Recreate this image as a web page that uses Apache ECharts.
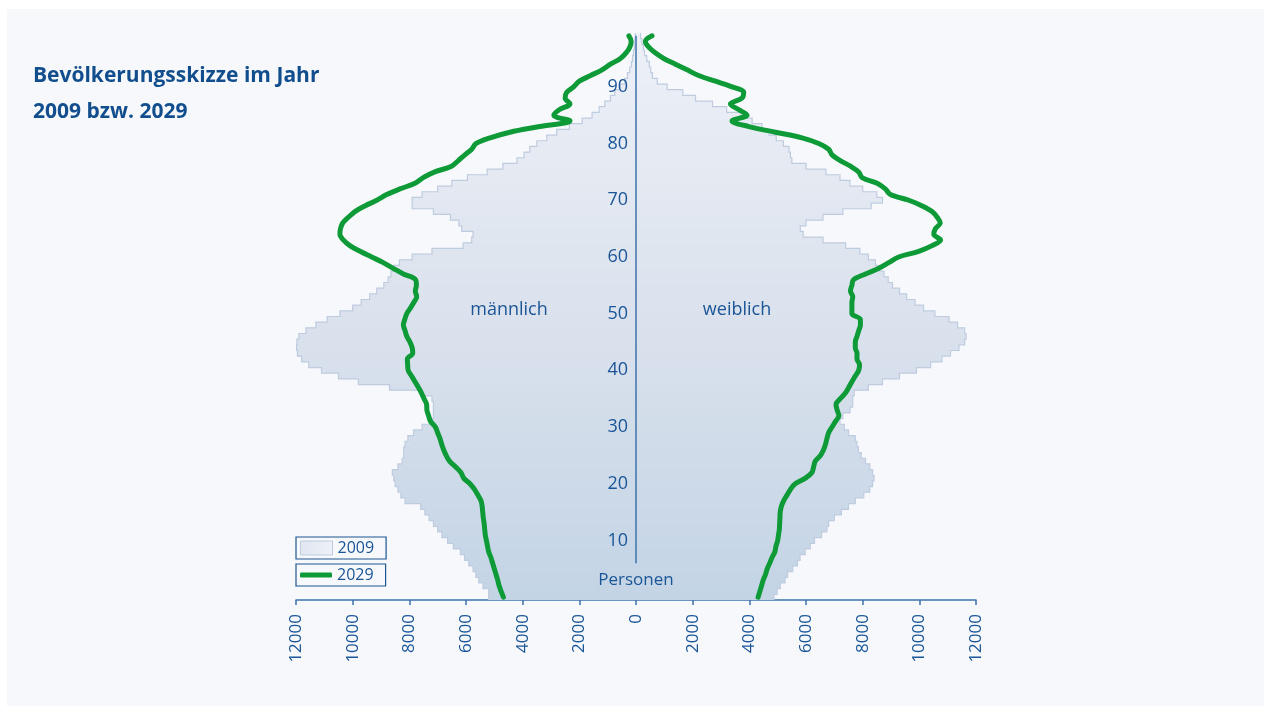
<!DOCTYPE html>
<html>
<head>
<meta charset="utf-8">
<script src="https://cdn.jsdelivr.net/npm/echarts@6/dist/echarts.min.js"></script>
<style>
html, body { margin: 0; padding: 0; background: #ffffff; }
#main { position: absolute; left: 7px; top: 9px; width: 1257px; height: 697px; background: #f6f8fc; }
</style>
</head>
<body>
<div id="main"></div>
<script>
// Altersjahre 0..99 (Kategorien der senkrechten Achse)
var ages = [];
for (var a = 0; a < 100; a++) ages.push(String(a));
var ageTicks = [10, 20, 30, 40, 50, 60, 70, 80, 90];

// Personen je Altersjahr, 2009 (Treppe)
var men2009 = [
  5200, 5200, 5400, 5550, 5650, 5750, 5900, 6050, 6200, 6450,
  6650, 6850, 7000, 7150, 7300, 7450, 7600, 8150, 8300, 8400,
  8500, 8550, 8600, 8400, 8250, 8200, 8200, 8150, 8050, 7850,
  7550, 7200, 7150, 7150, 7150, 7200, 7600, 8700, 9800, 10500,
  11100, 11550, 11800, 11950, 11980, 11970, 11900, 11650, 11300, 10900,
  10450, 10000, 9700, 9400, 9150, 8900, 8750, 8650, 8550, 8350,
  7900, 7200, 6100, 5800, 5750, 6150, 6250, 6550, 7150, 7900,
  7900, 7550, 7000, 6500, 5950, 5250, 4700, 4200, 3950, 3750,
  3500, 3150, 2800, 2350, 1900, 1550, 1300, 1100, 900, 750,
  550, 400, 300, 220, 160, 120, 90, 60, 40, 25
];
var women2009 = [
  4870, 4980, 5090, 5260, 5350, 5530, 5700, 5790, 5970, 6150,
  6300, 6550, 6740, 6800, 7000, 7250, 7500, 7740, 8040, 8250,
  8350, 8400, 8350, 8250, 8100, 7950, 7850, 7800, 7740, 7500,
  7350, 7200, 7300, 7550, 7650, 7650, 7700, 8200, 8700, 9300,
  9900, 10400, 10800, 11100, 11400, 11600, 11650, 11600, 11350, 11050,
  10550, 10150, 9850, 9550, 9300, 9050, 8900, 8750, 8600, 8450,
  8200, 7900, 7400, 6600, 5900, 5800, 6000, 6600, 7300, 8300,
  8700, 8500, 8000, 7550, 7200, 6700, 6000, 5500, 5450, 5400,
  5200, 4950, 4700, 4450, 4100, 3700, 3200, 2700, 2100, 1650,
  1100, 750, 580, 520, 470, 380, 300, 260, 210, 160
];

// Personen je Altersjahr, 2029 (Linie)
var men2029 = [
  4680, 4760, 4830, 4880, 4940, 5000, 5060, 5120, 5200, 5240,
  5280, 5320, 5340, 5360, 5390, 5410, 5430, 5470, 5580, 5700,
  5860, 6080, 6180, 6370, 6580, 6700, 6790, 6860, 6920, 7000,
  7080, 7250, 7320, 7380, 7390, 7480, 7570, 7680, 7800, 7920,
  8040, 8060, 8070, 7880, 7900, 7980, 8090, 8150, 8210, 8160,
  8090, 7960, 7840, 7740, 7790, 7750, 7780, 8210, 8570, 8920,
  9330, 9740, 10100, 10330, 10450, 10430, 10350, 10150, 9920, 9570,
  9150, 8800, 8330, 7800, 7510, 7100, 6510, 6270, 6040, 5800,
  5650, 5150, 4450, 3400, 2330, 2900, 2700, 2330, 2500, 2450,
  2200, 2000, 1600, 1200, 900, 550, 350, 220, 170, 250
];
var women2029 = [
  4310, 4370, 4430, 4490, 4570, 4630, 4720, 4800, 4900, 4940,
  5000, 5030, 5060, 5070, 5080, 5090, 5130, 5210, 5330, 5450,
  5620, 5980, 6210, 6270, 6330, 6510, 6620, 6690, 6740, 6800,
  6920, 7040, 7160, 7100, 7060, 7210, 7390, 7510, 7620, 7740,
  7860, 7890, 7800, 7800, 7740, 7740, 7800, 7860, 7920, 7920,
  7620, 7620, 7620, 7650, 7570, 7620, 7680, 8100, 8570, 8920,
  9270, 9980, 10450, 10750, 10510, 10570, 10740, 10630, 10450, 10100,
  9630, 8980, 8800, 8510, 7980, 7860, 7570, 7210, 6920, 6800,
  6450, 5860, 4920, 3980, 3390, 3920, 3620, 3330, 3740, 3800,
  3390, 2800, 2210, 1800, 1390, 980, 680, 450, 330, 565
];

var xMin = -12000, xMax = 12000, xStep = 2000;

var TEXT = '#1a5597';
var AXIS = '#3c72ab';
var GREEN = '#0d9a37';
var EDGE = '#bfcce0';
var FONT = 'Open Sans';

var areaFill = new echarts.graphic.LinearGradient(0, 0, 0, 1, [
  { offset: 0, color: '#edf0f7' },
  { offset: 0.5, color: '#dbe2ed' },
  { offset: 1, color: '#c3d4e5' }
]);
var swatchFill = new echarts.graphic.LinearGradient(0, 0, 1, 0, [
  { offset: 0, color: '#dfe6f0' },
  { offset: 1, color: '#eef1f8' }
]);

// Treppenflaeche einer Seite: ein Polygon ueber alle Altersjahre
function stepArea(values, sign) {
  return function (params, api) {
    if (params.dataIndex !== 0) return null;
    var h = api.size([0, 1])[1];
    var base = api.coord([0, 0]);
    var edge = [];
    for (var k = 0; k < values.length; k++) {
      var c = api.coord([sign * values[k], k]);
      edge.push([c[0], c[1] + h / 2], [c[0], c[1] - h / 2]);
    }
    var top = api.coord([0, values.length - 1]);
    var pts = [[base[0], base[1] + h / 2]].concat(edge, [[top[0], top[1] - h / 2]]);
    return {
      type: 'group',
      children: [
        { type: 'polygon', shape: { points: pts }, style: { fill: areaFill } },
        { type: 'polyline', shape: { points: edge }, style: { fill: null, stroke: EDGE, lineWidth: 1.2 } }
      ]
    };
  };
}

function pairs(values, sign) {
  return values.map(function (v, i) { return [sign * v, i]; });
}

var chart = echarts.init(document.getElementById('main'), null, { renderer: 'canvas' });

var option = {
  animation: false,
  backgroundColor: '#f6f8fc',
  title: {
    text: 'Bevölkerungsskizze im Jahr\n2009 bzw. 2029',
    left: 26,
    top: 49,
    padding: 0,
    textStyle: { fontSize: 21, fontWeight: 'bold', lineHeight: 36, color: '#124e8d', fontFamily: FONT }
  },
  grid: { left: 289, top: 24, width: 680, height: 567, containLabel: false, outerBoundsMode: 'none' },
  legend: [
    {
      left: 289, top: 528, selectedMode: false,
      padding: [3, 12, 3, 4], borderColor: '#1f5592', borderWidth: 1.2,
      itemWidth: 32, itemHeight: 14,
      textStyle: { color: TEXT, fontSize: 16, fontFamily: FONT },
      data: [{ name: '2009', icon: 'rect', itemStyle: { color: swatchFill, borderColor: EDGE, borderWidth: 1 } }]
    },
    {
      left: 289, top: 555, selectedMode: false,
      padding: [3, 12, 3, 4], borderColor: '#1f5592', borderWidth: 1.2,
      itemWidth: 32, itemHeight: 5,
      textStyle: { color: TEXT, fontSize: 16, fontFamily: FONT },
      data: [{ name: '2029', icon: 'roundRect', itemStyle: { color: GREEN, borderWidth: 0 } }]
    }
  ],
  xAxis: {
    type: 'value',
    min: xMin, max: xMax, interval: xStep,
    axisLine: { show: true, onZero: false, lineStyle: { color: AXIS, width: 1.5 } },
    axisTick: { show: true, length: 5, lineStyle: { color: AXIS, width: 1.5 } },
    axisLabel: {
      rotate: 90, margin: 14, fontSize: 17, color: TEXT, fontFamily: FONT,
      formatter: function (v) { return String(Math.abs(v)); }
    },
    splitLine: { show: false }
  },
  yAxis: {
    type: 'category',
    data: ages,
    boundaryGap: true,
    position: 'left',
    offset: -340,   // Altersachse in der Mitte (bei 0 Personen)
    z: 5,
    axisLine: { show: false, onZero: false },
    axisTick: { show: false },
    splitLine: { show: false },
    axisLabel: {
      margin: 8, fontSize: 18, color: TEXT, fontFamily: FONT,
      interval: function (idx) { return ageTicks.indexOf(idx) >= 0; }
    }
  },
  graphic: [
    { type: 'text', x: 502, y: 301, z: 100, style: { text: 'männlich', fill: TEXT, fontSize: 18, fontFamily: FONT, align: 'center', verticalAlign: 'middle' } },
    { type: 'text', x: 730, y: 301, z: 100, style: { text: 'weiblich', fill: TEXT, fontSize: 18, fontFamily: FONT, align: 'center', verticalAlign: 'middle' } },
    { type: 'text', x: 629, y: 571, z: 100, style: { text: 'Personen', fill: TEXT, fontSize: 17, fontFamily: FONT, align: 'center', verticalAlign: 'middle' } }
  ],
  series: [
    {
      type: 'custom', name: '2009', coordinateSystem: 'cartesian2d', silent: true, z: 1,
      renderItem: stepArea(men2009, -1), encode: { x: 0, y: 1 }, data: pairs(men2009, -1)
    },
    {
      type: 'custom', name: '2009', coordinateSystem: 'cartesian2d', silent: true, z: 1,
      renderItem: stepArea(women2009, 1), encode: { x: 0, y: 1 }, data: pairs(women2009, 1)
    },
    {
      type: 'line', name: '2029', data: pairs(men2029, -1), symbol: 'none', smooth: 0.35, z: 3,
      lineStyle: { color: GREEN, width: 5, cap: 'round', join: 'round' }, itemStyle: { color: GREEN }
    },
    {
      type: 'line', name: '2029', data: pairs(women2029, 1), symbol: 'none', smooth: 0.35, z: 3,
      lineStyle: { color: GREEN, width: 5, cap: 'round', join: 'round' }, itemStyle: { color: GREEN },
      markLine: {
        silent: true, symbol: ['none', 'none'], label: { show: false },
        lineStyle: { color: AXIS, width: 1.5, type: 'solid' },
        data: [[{ coord: [0, 6] }, { coord: [0, 99] }]]
      }
    }
  ]
};

chart.setOption(option);
</script>
</body>
</html>
